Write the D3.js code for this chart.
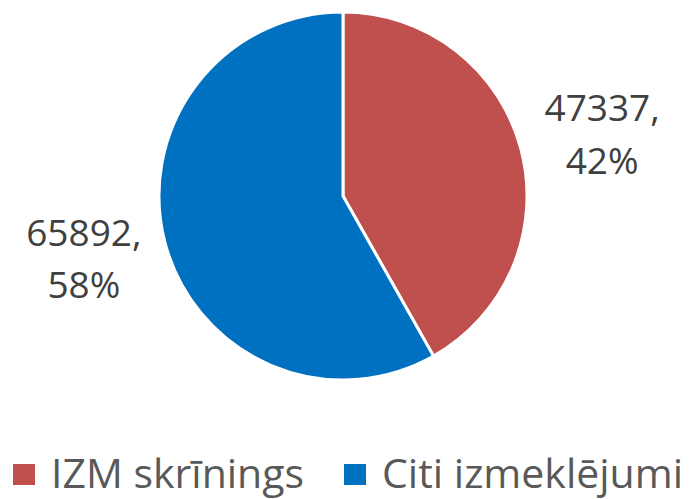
<!DOCTYPE html>
<html>
<head>
<meta charset="utf-8">
<script src="https://cdn.jsdelivr.net/npm/d3@7"></script>
<style>
  body { margin: 0; background: #fff; }
  svg { display: block; font-family: "Open Sans", sans-serif; }
</style>
</head>
<body>
<svg width="695" height="499"></svg>
<script>
const categories = ['IZM skrīnings', 'Citi izmeklējumi'];
const values = [47337, 65892];
const colors = ['#C0504D', '#0070C0'];

const svg = d3.select('svg');
const cx = 343, cy = 196, radius = 184;
const total = d3.sum(values);
const data = categories.map((name, i) => ({name, value: values[i], color: colors[i]}));

const pie = d3.pie().sort(null).value(d => d.value);
const arc = d3.arc().innerRadius(0).outerRadius(radius);
const arcs = pie(data);

const g = svg.append('g').attr('transform', `translate(${cx},${cy})`);

g.selectAll('path')
  .data(arcs)
  .join('path')
    .attr('d', arc)
    .attr('fill', d => d.data.color)
    .attr('stroke', '#fff')
    .attr('stroke-width', 3)
    .attr('stroke-linejoin', 'round');

// outside labels, Excel style "value, pct"
const labelRx = 268, labelRy = 245;
const labels = g.selectAll('text.label')
  .data(arcs)
  .join('text')
    .attr('class', 'label')
    .attr('text-anchor', 'middle')
    .attr('fill', '#404040')
    .attr('font-size', 37)
    .attr('transform', d => {
      const a = (d.startAngle + d.endAngle) / 2;
      return `translate(${labelRx * Math.sin(a)},${-labelRy * Math.cos(a)})`;
    });
labels.append('tspan').attr('x', 0).attr('y', -12.5).text(d => d.data.value + ',');
labels.append('tspan').attr('x', 0).attr('y', 40)
  .text(d => Math.round(d.data.value / total * 100) + '%');

// legend
const legend = svg.append('g').attr('transform', 'translate(0,488)');
const item = legend.selectAll('g')
  .data(data)
  .join('g')
    .attr('transform', (d, i) => `translate(${[13, 344][i]},0)`);
item.append('rect')
  .attr('x', 0).attr('y', -24).attr('width', 22).attr('height', 21)
  .attr('fill', d => d.color);
item.append('text')
  .attr('x', 38)
  .attr('fill', '#595959')
  .attr('font-size', 41)
  .text(d => d.name);
</script>
</body>
</html>
